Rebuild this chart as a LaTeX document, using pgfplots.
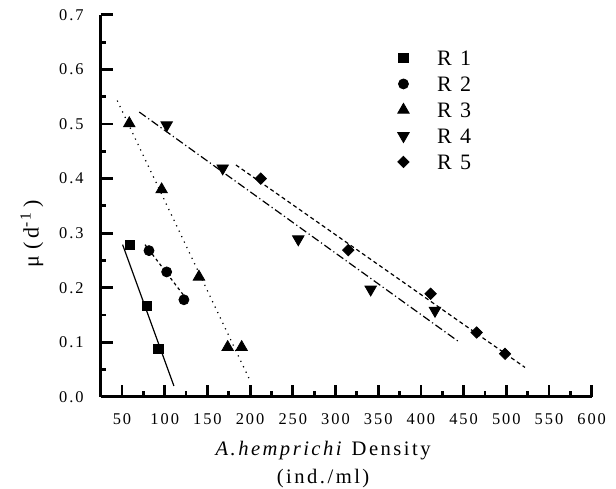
\documentclass[border=0pt]{standalone}
\usepackage{fontspec}
\setmainfont{Liberation Serif}[LetterSpace=12]
\usepackage{pgfplots}
\pgfplotsset{compat=1.18}

\begin{document}
\begin{tikzpicture}
\begin{axis}[
  scale only axis, width=245.5pt, height=191pt,
  xmin=25, xmax=600, ymin=0, ymax=0.7,
  axis x line*=bottom, axis y line*=left,
  axis line style={line width=1.5pt},
  tick align=inside,
  xtick={50,100,...,600}, minor x tick num=1,
  ytick={0,0.1,0.2,0.3,0.4,0.5,0.6,0.7}, minor y tick num=1,
  major tick length=6pt, minor tick length=2.8pt,
  every tick/.style={black, line width=1.4pt},
  /pgf/number format/assume math mode=true,
  yticklabel style={/pgf/number format/fixed, /pgf/number format/fixed zerofill,
    /pgf/number format/precision=1, font=\fontsize{8.2}{9}\selectfont, xshift=-5pt},
  xticklabel style={font=\fontsize{8.2}{9}\selectfont, yshift=-5pt},
  scaled y ticks=false,
  xlabel={\textit{A.hemprichi} Density\\(ind./ml)},
  xlabel style={at={(axis description cs:0.453,0)}, anchor=north, yshift=-22pt,
    align=center, font=\fontsize{10.3}{14}\selectfont, inner sep=0pt},
  ylabel={μ\hspace{3pt}(\,d\textsuperscript{-1}\,)},
  ylabel style={at={(axis description cs:-0.14,0.427)}, anchor=center,
    font=\fontsize{11}{12}\selectfont},
  legend style={draw=none, fill=none, at={(axis description cs:0.592,0.925)}, anchor=north west,
    font=\fontsize{11}{13}\selectfont, row sep=3pt, column sep=13pt,
    nodes={inner sep=1pt, text height=8pt, text depth=0pt}},
  legend cell align=left,
  clip=false,
]
% data points
\addplot[only marks, mark=square*, mark size=2.3pt, black] coordinates {
  (59.3,0.279) (78.9,0.167) (92.5,0.088)};
\addlegendentry{R 1}
\addplot[only marks, mark=*, mark size=2.5pt, black] coordinates {
  (81.6,0.268) (102.3,0.229) (122.5,0.178)};
\addlegendentry{R 2}
\addplot[only marks, mark=triangle*, mark size=3.3pt, black] coordinates {
  (58.5,0.501) (96.4,0.380) (140.1,0.220) (173.7,0.091) (190.1,0.091)};
\addlegendentry{R 3}
\addplot[only marks, mark=triangle*, mark size=3.3pt, mark options={rotate=180}, black] coordinates {
  (102.3,0.498) (167.9,0.419) (256.4,0.289) (341.2,0.197) (416.5,0.158)};
\addlegendentry{R 4}
\addplot[only marks, mark=square*, mark size=2pt, mark options={rotate=45}, black] coordinates {
  (212.4,0.400) (315.0,0.269) (411.4,0.189) (465.3,0.118) (498.5,0.079)};
\addlegendentry{R 5}
% fitted lines
\addplot[forget plot, black, line width=0.6pt] coordinates {(50.7,0.279) (110.8,0.020)};
\addplot[forget plot, black, line width=0.6pt, dash pattern=on 1.5pt off 1.5pt] coordinates {(76.9,0.279) (127.6,0.175)};
\addplot[forget plot, black, line width=0.6pt, dash pattern=on 0.6pt off 2.4pt] coordinates {(44.4,0.543) (199.0,0.033)};
\addplot[forget plot, black, line width=0.6pt, dash pattern=on 4pt off 1.5pt on 0.6pt off 1.5pt] coordinates {(70.2,0.522) (445.8,0.0995)};
\addplot[forget plot, black, line width=0.6pt, dash pattern=on 2pt off 1.5pt] coordinates {(183.4,0.425) (521.9,0.054)};
% frame of the whole picture, as in the reference
\path (axis description cs:-0.205,-0.241) rectangle (axis description cs:1.0495,1.039);
\end{axis}
\end{tikzpicture}
\end{document}
